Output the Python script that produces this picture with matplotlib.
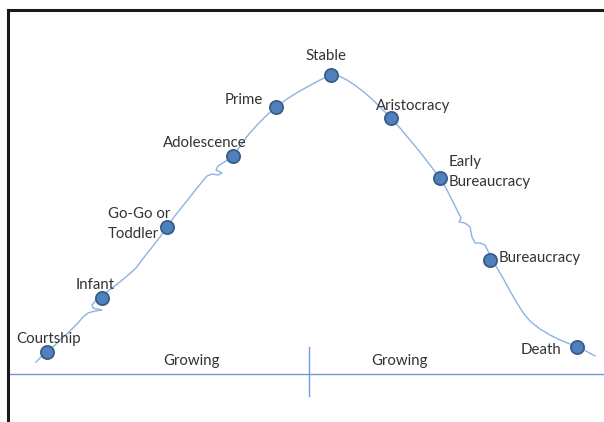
import matplotlib.pyplot as plt

# Lifecycle stages (marker positions, picture units: x right, y down)
stages = ["Courtship", "Infant", "Go-Go or\nToddler", "Adolescence", "Prime",
          "Stable", "Aristocracy", "Early\nBureaucracy", "Bureaucracy", "Death"]
stage_x = [47, 102, 167, 233, 276, 331, 391, 440, 490, 577]
stage_y = [352, 298, 227, 156, 107, 75, 118, 178, 260, 347]

# hand-drawn curve
curve_x = [36, 41, 47, 54, 61, 67, 72, 77, 83, 88, 95, 102, 93, 92, 96, 102,
           108, 116, 126, 136, 145, 153, 160, 167, 174, 182, 190, 197, 202, 205,
           207, 212, 218, 222, 216, 218, 226, 233, 241, 249, 258, 267, 276, 287,
           298, 309, 320, 331, 339, 347, 356, 365, 374, 383, 391, 400, 410, 420,
           430, 440, 447, 452, 456, 461, 459, 465, 470, 472, 475, 480, 485, 490,
           497, 503, 510, 517, 524, 531, 540, 550, 560, 570, 577, 586, 595]
curve_y = [362, 357, 352, 346, 339, 334, 329, 324, 317, 313, 311, 310, 308,
           305, 300, 296, 291, 285, 277, 268, 256, 246, 237, 227, 217, 207, 197,
           188, 182, 178, 176, 174, 175, 173, 170, 166, 161, 156, 145, 134, 124,
           115, 107, 99, 92, 86, 80, 75, 76, 80, 86, 93, 101, 110, 118, 128, 140,
           152, 165, 178, 190, 200, 208, 218, 222, 223, 227, 237, 243, 243, 245,
           255, 268, 278, 291, 303, 314, 322, 329, 335, 340, 344, 347, 351, 356]

phase_labels = ["Growing", "Growing"]
phase_x = [192, 400]
baseline_y = 374
divider_x = 309

# label placement: (x, y, ha)
label_pos = [(16, 339, "left"), (76, 285, "left"), (108, 224, "left"),
             (163, 143, "left"), (263, 100, "right"), (326, 56, "center"),
             (376, 106, "left"), (449, 172, "left"), (499, 258, "left"),
             (561, 350, "right")]

fig = plt.figure(figsize=(6.04, 4.22), dpi=100)
ax = fig.add_axes([8 / 604, 0, 596 / 604, 412 / 422])
ax.set_xlim(8, 604)
ax.set_ylim(422, 10)

for side in ["right", "bottom"]:
    ax.spines[side].set_visible(False)
for side in ["left", "top"]:
    ax.spines[side].set_color("#1a1a1a")
    ax.spines[side].set_linewidth(2.2)
ax.set_xticks([])
ax.set_yticks([])

ax.plot(curve_x, curve_y, color="#8db3e2", lw=1.0, zorder=2)
ax.axhline(baseline_y, color="#6f9bd3", lw=1.0, zorder=1)
ax.plot([divider_x, divider_x], [baseline_y - 27, baseline_y + 22],
        color="#6f9bd3", lw=1.0, zorder=1)
ax.scatter(stage_x, stage_y, s=90, color="#4f81bd", edgecolor="#385d8a",
           linewidth=1.3, zorder=3)

for name, (lx, ly, ha) in zip(stages, label_pos):
    ax.text(lx, ly, name, ha=ha, va="center", fontsize=10.8, family="Lato",
            color="#333333", linespacing=1.55)

for name, px in zip(phase_labels, phase_x):
    ax.text(px, 361, name, ha="center", va="center", fontsize=10.8,
            family="Lato", color="#333333")

fig.savefig("out.png", dpi=100)
